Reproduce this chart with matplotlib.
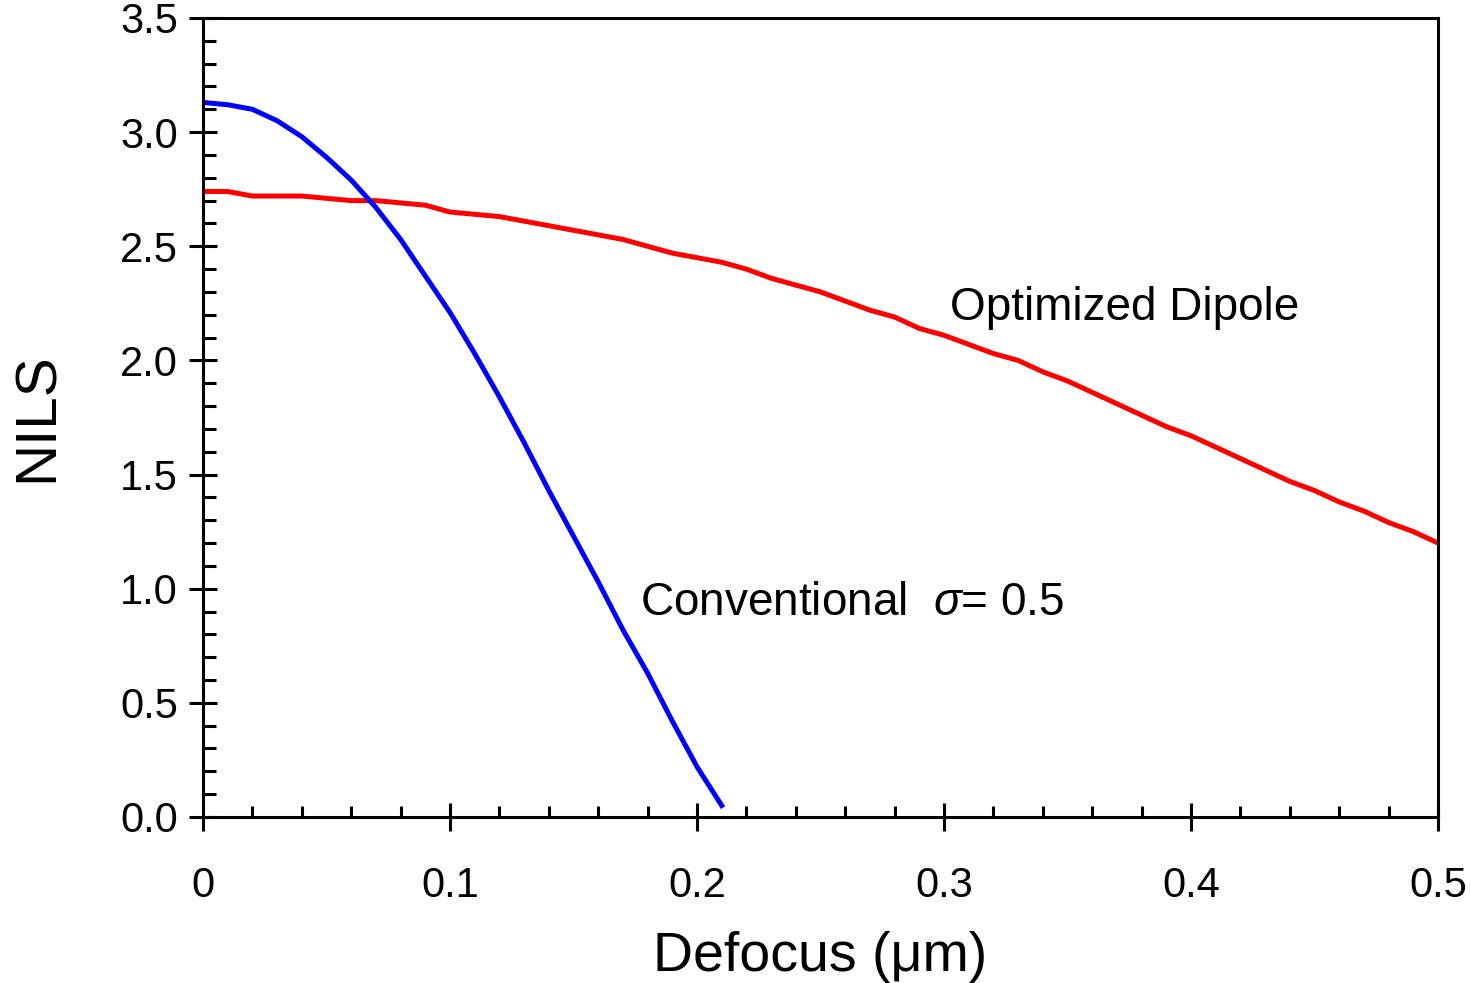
import matplotlib
matplotlib.use("Agg")
import matplotlib.pyplot as plt
from matplotlib.ticker import MultipleLocator

plt.rcParams['font.family'] = ['Liberation Sans', 'DejaVu Sans']
plt.rcParams['mathtext.fontset'] = 'custom'
plt.rcParams['mathtext.it'] = 'Liberation Sans:italic'
plt.rcParams['mathtext.rm'] = 'Liberation Sans'

# Data
defocus_conv = [0.00, 0.01, 0.02, 0.03, 0.04, 0.05, 0.06, 0.07, 0.08, 0.09, 0.10,
                0.11, 0.12, 0.13, 0.14, 0.15, 0.16, 0.17, 0.18, 0.19, 0.20, 0.21]
nils_conv = [3.13, 3.12, 3.10, 3.05, 2.98, 2.89, 2.79, 2.67, 2.53, 2.37, 2.21,
             2.03, 1.84, 1.64, 1.43, 1.23, 1.03, 0.82, 0.63, 0.42, 0.22, 0.05]

defocus_dip = [0.00, 0.01, 0.02, 0.03, 0.04, 0.05, 0.06, 0.07, 0.08, 0.09, 0.10,
               0.11, 0.12, 0.13, 0.14, 0.15, 0.16, 0.17, 0.18, 0.19, 0.20,
               0.21, 0.22, 0.23, 0.24, 0.25, 0.26, 0.27, 0.28, 0.29, 0.30,
               0.31, 0.32, 0.33, 0.34, 0.35, 0.36, 0.37, 0.38, 0.39, 0.40,
               0.41, 0.42, 0.43, 0.44, 0.45, 0.46, 0.47, 0.48, 0.49, 0.50]
nils_dip = [2.74, 2.74, 2.72, 2.72, 2.72, 2.71, 2.70, 2.70, 2.69, 2.68, 2.65,
            2.64, 2.63, 2.61, 2.59, 2.57, 2.55, 2.53, 2.50, 2.47, 2.45,
            2.43, 2.40, 2.36, 2.33, 2.30, 2.26, 2.22, 2.19, 2.14, 2.11,
            2.07, 2.03, 2.00, 1.95, 1.91, 1.86, 1.81, 1.76, 1.71, 1.67,
            1.62, 1.57, 1.52, 1.47, 1.43, 1.38, 1.34, 1.29, 1.25, 1.20]

x_ticks = [0, 0.1, 0.2, 0.3, 0.4, 0.5]
x_tick_labels = ['0', '0.1', '0.2', '0.3', '0.4', '0.5']
y_ticks = [0, 0.5, 1.0, 1.5, 2.0, 2.5, 3.0, 3.5]
y_tick_labels = ['0.0', '0.5', '1.0', '1.5', '2.0', '2.5', '3.0', '3.5']

label_conv = "Conventional  $\\sigma$= 0.5"
label_dip = "Optimized Dipole"

fig = plt.figure(figsize=(14.71, 9.83), dpi=100)
ax = fig.add_axes([0.138, 0.1689, 0.9776 - 0.138, 0.9817 - 0.1689])

ax.plot(defocus_dip, nils_dip, color='#ff0000', lw=3.6, solid_joinstyle='round')
ax.plot(defocus_conv, nils_conv, color='#0000ff', lw=3.6, solid_joinstyle='round')

ax.set_xlim(0, 0.5)
ax.set_ylim(0, 3.5)

ax.set_xticks(x_ticks)
ax.set_xticklabels(x_tick_labels)
ax.set_yticks(y_ticks)
ax.set_yticklabels(y_tick_labels)
ax.xaxis.set_minor_locator(MultipleLocator(0.02))
ax.yaxis.set_minor_locator(MultipleLocator(0.1))

ax.tick_params(axis='both', which='major', direction='inout', length=20, width=2.2,
               labelsize=30, top=False, right=False)
ax.tick_params(axis='x', which='major', pad=25)
ax.tick_params(axis='y', which='major', pad=8)
ax.tick_params(axis='x', which='minor', direction='in', length=8, width=2.2, top=False)
ax.tick_params(axis='y', which='minor', direction='in', length=9.5, width=2.2, right=False)

for s in ax.spines.values():
    s.set_linewidth(2.2)

ax.set_xlabel("Defocus (\u03bcm)", fontsize=40, labelpad=18)
ax.set_ylabel("NILS", fontsize=42, labelpad=40)

ax.text(0.1769, 0.885, label_conv, fontsize=33, ha='left', va='baseline')
ax.text(0.3024, 2.177, label_dip, fontsize=33, ha='left', va='baseline')

fig.savefig("out.png", dpi=100)
